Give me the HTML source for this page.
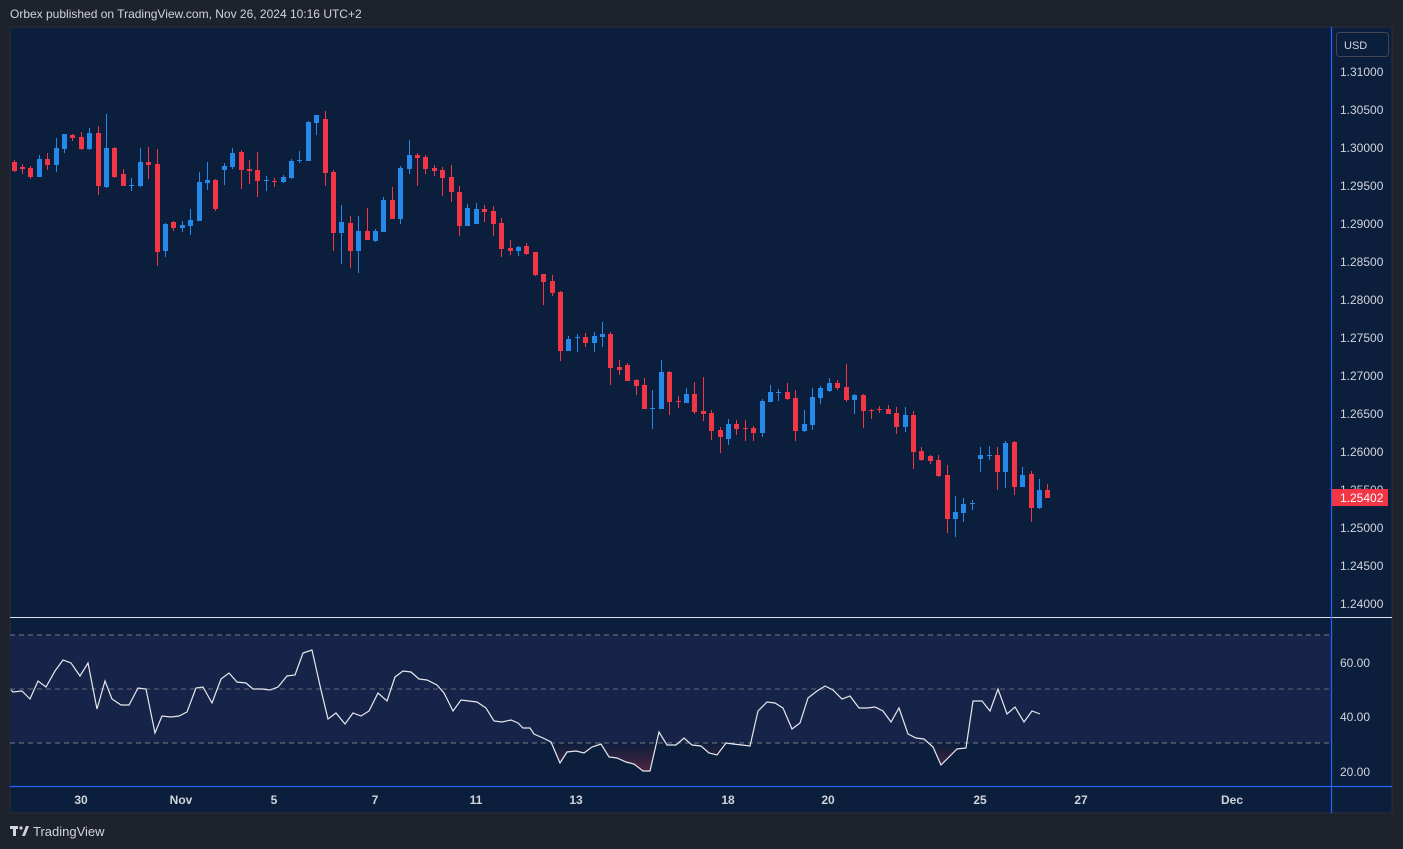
<!DOCTYPE html>
<html><head><meta charset="utf-8"><style>
html,body{margin:0;padding:0;background:#1e222d;width:1403px;height:849px;overflow:hidden;font-family:"Liberation Sans",sans-serif}
svg{position:absolute;left:0;top:0}
</style></head><body>
<svg id="s" width="1403" height="849" viewBox="0 0 1403 849" xmlns="http://www.w3.org/2000/svg">
<defs>
<clipPath id="os"><rect x="10" y="743" width="1321" height="43"/></clipPath>
<linearGradient id="og" gradientUnits="userSpaceOnUse" x1="0" y1="743" x2="0" y2="772"><stop offset="0" stop-color="#f23645" stop-opacity="0.0"/><stop offset="1" stop-color="#f23645" stop-opacity="0.3"/></linearGradient>
</defs>
<text x="10" y="18" fill="#d1d4dc" font-size="12">Orbex published on TradingView.com, Nov 26, 2024 10:16 UTC+2</text>
<rect x="10" y="27" width="1382" height="786" fill="#0b1e3c" stroke="#2a2e39" stroke-width="1"/>
<rect x="10" y="635" width="1321" height="108" fill="#172449"/>
<line x1="10" y1="635" x2="1331" y2="635" stroke="#787b86" stroke-dasharray="5,4"/>
<line x1="10" y1="689" x2="1331" y2="689" stroke="#787b86" stroke-dasharray="5,4" stroke-opacity="0.8"/>
<line x1="10" y1="743" x2="1331" y2="743" stroke="#787b86" stroke-dasharray="5,4"/>
<g id="cand"></g>
<path id="osf" clip-path="url(#os)" fill="url(#og)"/>
<polyline id="rsi" fill="none" stroke="#e8e8ec" stroke-width="1.2"/>
<line x1="10" y1="617.5" x2="1392" y2="617.5" stroke="#e0e3eb" stroke-width="1"/>
<line x1="10" y1="786.5" x2="1392" y2="786.5" stroke="#2962ff" stroke-width="1.2"/>
<line x1="1331.5" y1="27" x2="1331.5" y2="813" stroke="#2962ff" stroke-width="1.2"/>
<rect x="1336.5" y="32.5" width="52" height="24" rx="3" fill="#0b1e3c" stroke="#434651"/>
<text x="1344" y="49" fill="#d1d4dc" font-size="11">USD</text>
<g fill="#d1d4dc" font-size="12">
<text x="1340" y="76">1.31000</text>
<text x="1340" y="114">1.30500</text>
<text x="1340" y="152">1.30000</text>
<text x="1340" y="190">1.29500</text>
<text x="1340" y="228">1.29000</text>
<text x="1340" y="266">1.28500</text>
<text x="1340" y="304">1.28000</text>
<text x="1340" y="342">1.27500</text>
<text x="1340" y="380">1.27000</text>
<text x="1340" y="418">1.26500</text>
<text x="1340" y="456">1.26000</text>
<text x="1340" y="494">1.25500</text>
<text x="1340" y="532">1.25000</text>
<text x="1340" y="570">1.24500</text>
<text x="1340" y="608">1.24000</text>
<text x="1340" y="667">60.00</text>
<text x="1340" y="721">40.00</text>
<text x="1340" y="776">20.00</text>
</g>
<rect x="1332" y="489" width="56" height="17" fill="#f23645"/>
<text x="1340" y="502" fill="#ffffff" font-size="12">1.25402</text>
<g fill="#d1d4dc" font-size="12" font-weight="bold" text-anchor="middle">
<text x="81" y="804">30</text><text x="181" y="804">Nov</text><text x="274" y="804">5</text>
<text x="375" y="804">7</text><text x="476" y="804">11</text><text x="576" y="804">13</text>
<text x="728" y="804">18</text><text x="828" y="804">20</text><text x="980" y="804">25</text>
<text x="1081" y="804">27</text><text x="1232" y="804">Dec</text>
</g>
<g fill="#d1d4dc">
<rect x="10" y="826" width="8" height="3"/><rect x="13" y="826" width="3" height="10"/>
<circle cx="21" cy="828" r="1.6"/><path d="M22 836 L26 826 L29 826 L25 836 Z"/>
</g>
<text x="33" y="836" fill="#d1d4dc" font-size="13">TradingView</text>
</svg>
<script>
var C=[
[14,162,171,160,172,0],[22,167,169,164,174,0],[30,168,177,166,179,0],[39,159,177,155,177,1],[47,159,165,153,170,0],
[56,148,165,138,172,1],[64,134,149,134,153,1],[72,135,138,134,141,0],[81,137,149,132,150,0],[89,133,149,128,150,1],
[98,133,186,126,195,0],[106,148,187,114,188,1],[114,148,177,147,178,0],[123,174,186,169,186,0],[131,185,186,178,191,1],
[140,162,186,148,187,1],[148,162,165,147,179,0],[157,164,252,149,266,0],[165,224,251,223,257,1],[173,222,228,221,231,0],
[182,225,228,221,232,1],[190,220,226,209,235,1],[199,182,221,172,221,1],[207,180,183,162,190,1],[215,180,209,179,211,0],
[224,166,170,163,185,1],[232,153,167,148,169,1],[241,152,170,150,189,0],[249,169,171,160,184,0],[257,170,181,152,197,0],
[266,180,181,176,191,1],[274,181,182,178,187,0],[283,177,182,175,183,1],[291,161,178,159,179,1],[299,160,161,151,163,1],
[308,122,161,121,161,1],[316,115,123,115,135,1],[325,119,173,111,186,0],[333,172,233,170,251,0],[341,222,233,205,264,1],
[350,223,251,216,268,0],[358,231,251,216,273,1],[367,231,240,208,240,0],[375,231,241,229,242,1],[383,200,232,197,232,1],
[392,200,219,187,219,0],[400,168,219,166,224,1],[409,155,169,140,174,1],[417,155,158,153,186,0],[425,157,169,155,174,0],
[434,168,171,165,176,0],[442,170,178,167,196,0],[451,177,192,165,202,0],[459,192,226,186,236,0],[467,208,226,204,226,1],
[476,209,224,203,224,1],[484,209,212,205,222,0],[493,211,224,206,236,0],[501,223,249,218,257,0],[510,248,251,240,255,0],
[518,247,251,246,256,1],[526,246,254,243,255,0],[535,252,275,252,276,0],[543,274,282,274,305,0],[552,281,293,275,296,0],
[560,292,351,291,361,0],[568,339,351,336,351,1],[577,337,338,334,352,1],[585,337,343,333,347,0],[594,336,343,332,352,1],
[602,334,337,322,347,1],[610,334,368,332,385,0],[619,367,370,360,375,0],[627,365,381,363,381,0],[636,380,386,379,395,0],
[644,385,409,378,409,0],[652,408,409,390,429,1],[661,372,409,360,409,1],[669,372,402,371,415,0],[678,401,402,396,408,0],
[686,394,403,388,403,1],[694,394,412,382,414,0],[703,411,414,377,421,0],[711,413,431,410,440,0],[720,430,437,427,453,0],
[728,424,439,419,445,1],[736,424,429,420,435,0],[745,428,429,420,441,0],[753,428,433,426,441,0],[762,401,433,399,437,1],
[770,392,402,385,402,1],[778,392,393,389,401,1],[787,392,399,383,400,0],[795,398,431,390,441,0],[804,424,431,410,432,1],
[812,397,425,388,430,1],[820,388,398,386,404,1],[829,383,391,378,392,1],[837,383,388,380,390,0],[846,387,400,364,402,0],
[854,395,400,394,414,1],[863,395,411,394,428,0],[871,410,411,409,419,0],[879,409,410,406,413,0],[888,409,414,405,414,0],
[896,413,427,407,434,0],[905,415,427,407,432,1],[913,415,452,411,469,0],[921,451,460,447,461,0],[930,456,461,455,464,0],
[938,460,476,455,477,0],[947,475,519,465,533,0],[955,512,519,496,537,1],[963,504,513,498,522,1],[972,503,504,500,510,1],
[980,455,459,447,472,1],[989,455,456,446,460,1],[997,455,472,447,490,0],[1005,443,472,441,488,1],[1014,442,487,441,495,0],
[1022,475,487,467,487,1],[1031,474,508,471,522,0],[1039,490,508,479,509,1],[1047,490,498,484,498,0]];
var h='';C.forEach(function(c){var col=c[5]?'#2489e8':'#f23645';
h+='<rect x="'+c[0]+'" y="'+c[3]+'" width="1" height="'+(c[4]-c[3])+'" fill="'+col+'"/>';
h+='<rect x="'+(c[0]-2)+'" y="'+c[1]+'" width="5" height="'+Math.max(1,c[2]-c[1])+'" fill="'+col+'"/>';});
var ns='http://www.w3.org/2000/svg';
var g=document.getElementById('cand');var tmp=new DOMParser().parseFromString('<svg xmlns="'+ns+'">'+h+'</svg>','image/svg+xml');
Array.prototype.slice.call(tmp.documentElement.childNodes).forEach(function(n){g.appendChild(document.importNode(n,true));});
var R=[[11,690],[13,692],[22,691],[30,699],[38,681],[46,687],[55,671],[63,660],[71,663],[80,676],[88,663],[97,709],[105,681],[112,699],[121,705],[129,705],[138,688],[146,689],[155,733],[162,716],[171,717],[179,716],[187,712],[196,688],[203,687],[212,703],[221,679],[229,673],[237,682],[246,683],[253,689],[262,689],[270,690],[278,687],[287,676],[295,675],[303,653],[312,650],[321,690],[328,719],[336,713],[345,724],[353,713],[361,716],[369,711],[378,693],[387,701],[395,677],[403,671],[411,672],[419,679],[427,680],[437,685],[444,693],[453,711],[461,700],[469,701],[477,702],[486,708],[494,721],[502,722],[511,720],[518,723],[523,728],[530,728],[534,734],[543,738],[551,742],[560,763],[567,752],[576,751],[584,753],[592,747],[601,744],[609,757],[617,758],[626,762],[634,764],[643,771],[650,771],[659,732],[667,745],[676,745],[684,738],[692,745],[701,746],[709,753],[717,755],[726,743],[733,744],[742,745],[750,746],[758,711],[767,702],[775,703],[783,708],[792,729],[800,723],[808,698],[817,691],[825,686],[833,690],[842,699],[850,696],[859,708],[867,708],[875,707],[883,711],[891,722],[899,708],[908,734],[916,738],[924,739],[933,747],[941,765],[949,757],[957,749],[966,748],[973,701],[982,701],[990,711],[998,689],[1007,714],[1015,707],[1024,722],[1032,711],[1040,714]];
document.getElementById('rsi').setAttribute('points',R.map(function(p){return p.join(',')}).join(' '));
document.getElementById('osf').setAttribute('d','M11,743 L'+R.map(function(p){return p.join(',')}).join(' L')+' L1040,743 Z');
</script>
</body></html>
